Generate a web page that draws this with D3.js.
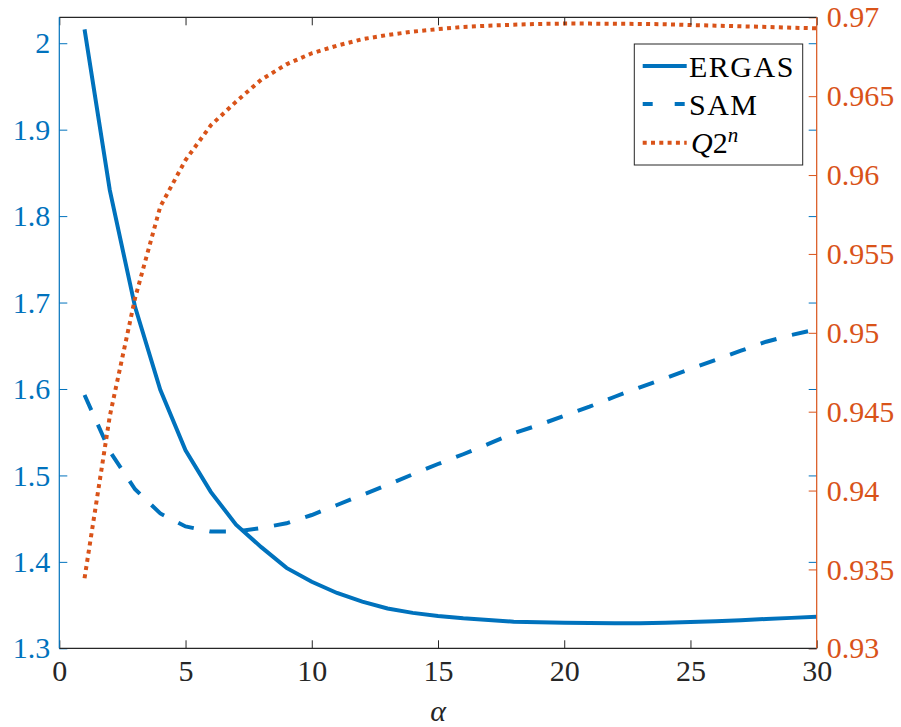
<!DOCTYPE html>
<meta charset="utf-8">
<style>
body { margin: 0; background: #fff; }
svg text { font-family: "Liberation Serif", "Times New Roman", serif; }
.line { fill: none; stroke-width: 4; }
</style>
<body>
<script src="https://d3js.org/d3.v7.min.js"></script>
<script>
var width = 901
var height = 727

var alpha = d3.range(1, 31)

var ergas = [2.016, 1.830, 1.695, 1.599, 1.529, 1.481, 1.443, 1.417, 1.393, 1.377,
             1.364, 1.354, 1.346, 1.341, 1.3374, 1.3347, 1.3327, 1.3308, 1.3300, 1.3296,
             1.3292, 1.3290, 1.3291, 1.3295, 1.3303, 1.3313, 1.3325, 1.3339, 1.3352, 1.3366]

var sam = [1.593, 1.528, 1.484, 1.456, 1.441, 1.435, 1.435, 1.4392, 1.4446, 1.4542,
           1.4658, 1.4774, 1.489, 1.5013, 1.5132, 1.5245, 1.5364, 1.5488, 1.5584, 1.569,
           1.5795, 1.591, 1.602, 1.6124, 1.6232, 1.6336, 1.6443, 1.6547, 1.6625, 1.669]

var q2n = [0.93444, 0.94472, 0.95219, 0.95800, 0.96095, 0.96315, 0.96465, 0.96605, 0.96702, 0.96772,
           0.96820, 0.96861, 0.96888, 0.96909, 0.96925, 0.96939, 0.96947, 0.96953, 0.96958, 0.96960,
           0.96960, 0.96959, 0.96958, 0.96956, 0.96951, 0.96947, 0.96943, 0.96939, 0.96934, 0.96930]

var xTicks = [0, 5, 10, 15, 20, 25, 30]
var leftTicks = [1.3, 1.4, 1.5, 1.6, 1.7, 1.8, 1.9, 2]
var rightTicks = [0.93, 0.935, 0.94, 0.945, 0.95, 0.955, 0.96, 0.965, 0.97]

var blue = '#0072BD'
var orange = '#D95319'
var dark = '#262626'

var pL = 59.3, pR = 816.7, pT = 17.3, pB = 648.3

var x = d3.scaleLinear().domain([0, 30]).range([pL, pR])
var yL = d3.scaleLinear().domain([1.3, 2.03]).range([pB, pT])
var yR = d3.scaleLinear().domain([0.93, 0.97]).range([pB, pT])

var svg = d3.select('body').append('svg')
    .attr('width', width)
    .attr('height', height)

svg.append('defs').append('clipPath').attr('id', 'clip')
    .append('rect')
    .attr('x', pL).attr('y', pT)
    .attr('width', pR - pL).attr('height', pB - pT)

// lines
var plot = svg.append('g').attr('clip-path', 'url(#clip)')

var lineL = d3.line().x(function (d, i) { return x(alpha[i]) }).y(function (d) { return yL(d) })
var lineR = d3.line().x(function (d, i) { return x(alpha[i]) }).y(function (d) { return yR(d) })

plot.append('path').datum(ergas).attr('class', 'line')
    .attr('stroke', blue).attr('d', lineL)
plot.append('path').datum(sam).attr('class', 'line')
    .attr('stroke', blue).attr('stroke-dasharray', '16.5,16').attr('d', lineL)
plot.append('path').datum(q2n).attr('class', 'line')
    .attr('stroke', orange).attr('stroke-dasharray', '4,4.3').attr('d', lineR)

// axes
function styleAxis(g, color) {
    g.attr('font-family', null)
    g.select('.domain').remove()
    g.selectAll('.tick line').attr('stroke', color)
    g.selectAll('.tick text').attr('fill', color).style('font-size', '30px')
}

var xb = svg.append('g').attr('transform', 'translate(0,' + pB + ')')
    .call(d3.axisBottom(x).tickValues(xTicks).tickSizeInner(-8).tickFormat(d3.format('d')))
styleAxis(xb, dark)
xb.selectAll('.tick text').attr('y', 11).attr('dy', '0.71em')

var xt = svg.append('g').attr('transform', 'translate(0,' + pT + ')')
    .call(d3.axisTop(x).tickValues(xTicks).tickSize(-8).tickFormat(''))
styleAxis(xt, dark)

var yl = svg.append('g').attr('transform', 'translate(' + pL + ',0)')
    .call(d3.axisLeft(yL).tickValues(leftTicks).tickSizeInner(-8).tickFormat(d3.format('')))
styleAxis(yl, blue)
yl.selectAll('.tick text').attr('x', -9)

// left ticks mirrored on the right side
var ylm = svg.append('g').attr('transform', 'translate(' + pR + ',0)')
    .call(d3.axisRight(yL).tickValues(leftTicks).tickSize(-8).tickFormat(''))
styleAxis(ylm, blue)

var yr = svg.append('g').attr('transform', 'translate(' + pR + ',0)')
    .call(d3.axisRight(yR).tickValues(rightTicks).tickSizeInner(-8).tickFormat(d3.format('')))
styleAxis(yr, orange)
yr.selectAll('.tick text').attr('x', 10)

// frame
svg.append('line').attr('x1', pL).attr('x2', pR).attr('y1', pT).attr('y2', pT)
    .attr('stroke', dark).attr('stroke-width', 1.2)
svg.append('line').attr('x1', pL).attr('x2', pR).attr('y1', pB).attr('y2', pB)
    .attr('stroke', dark).attr('stroke-width', 1.2)
svg.append('line').attr('x1', pL).attr('x2', pL).attr('y1', pT).attr('y2', pB)
    .attr('stroke', blue).attr('stroke-width', 1.2)
svg.append('line').attr('x1', pR).attr('x2', pR).attr('y1', pT).attr('y2', pB)
    .attr('stroke', orange).attr('stroke-width', 1.2)

// x label
svg.append('text')
    .attr('x', (pL + pR) / 2).attr('y', 721)
    .attr('text-anchor', 'middle')
    .style('font-size', '30px').style('font-style', 'italic')
    .attr('fill', dark)
    .text('α')

// legend
var legend = svg.append('g')
legend.append('rect')
    .attr('x', 634.3).attr('y', 44).attr('width', 168.4).attr('height', 121)
    .attr('fill', '#fff').attr('stroke', dark).attr('stroke-width', 1)

var legItems = [
    { y: 66, color: blue, dash: null },
    { y: 104, color: blue, dash: '10,22' },
    { y: 142.7, color: orange, dash: '4,4.3' }
]
legItems.forEach(function (d) {
    legend.append('line')
        .attr('x1', 642.7).attr('x2', 686.7).attr('y1', d.y).attr('y2', d.y)
        .attr('stroke', d.color).attr('stroke-width', 4)
        .attr('stroke-dasharray', d.dash)
})

legend.append('text').attr('x', 689).attr('y', 66).attr('dy', '0.35em')
    .style('font-size', '30px').style('letter-spacing', '1.5px').attr('fill', '#000').text('ERGAS')
legend.append('text').attr('x', 689).attr('y', 104).attr('dy', '0.35em')
    .style('font-size', '30px').style('letter-spacing', '1.5px').attr('fill', '#000').text('SAM')
var q = legend.append('text').attr('x', 691).attr('y', 142.7).attr('dy', '0.35em')
    .style('font-size', '30px').attr('fill', '#000')
q.append('tspan').style('font-style', 'italic').text('Q')
q.append('tspan').text('2')
q.append('tspan').style('font-style', 'italic').style('font-size', '21px').attr('dy', '-11').text('n')
</script>
</body>
